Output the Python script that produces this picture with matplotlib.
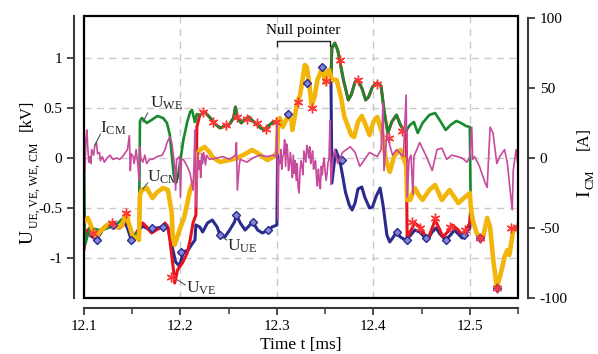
import numpy as np
import matplotlib
matplotlib.use('Agg')
import matplotlib.pyplot as plt
from matplotlib.patches import Rectangle
from matplotlib.ticker import MultipleLocator

plt.rcParams['font.family'] = 'Liberation Serif'
plt.rcParams['mathtext.fontset'] = 'custom'
plt.rcParams['mathtext.rm'] = 'Liberation Serif'
plt.rcParams['mathtext.it'] = 'Liberation Serif:italic'
plt.rcParams['axes.unicode_minus'] = False

# --- phase voltages [kV] over time [ms], piecewise ---
# W phase, start until it joins V phase high level
we_a_t = [12.100, 12.101, 12.106, 12.116, 12.132, 12.144, 12.151, 12.157, 12.158, 12.160, 12.165, 12.170,
          12.176, 12.182, 12.186, 12.189, 12.191, 12.193, 12.195, 12.197, 12.200, 12.203, 12.207, 12.210,
          12.212, 12.214, 12.215, 12.217]
we_a_v = [0.08, -0.87, -0.70, -0.72, -0.68, -0.57, -0.78, -0.74, 0.37, 0.40, 0.35, 0.38,
          0.42, 0.40, 0.35, 0.23, 0.03, -0.17, -0.25, -0.20, -0.02, 0.18, 0.36, 0.46,
          0.48, 0.40, 0.36, 0.44]

# V and W both high
hi1_t = [12.220, 12.225, 12.230, 12.236, 12.241, 12.246, 12.251, 12.255, 12.257, 12.259, 12.263, 12.267,
         12.271, 12.275, 12.279, 12.283, 12.287, 12.291, 12.296, 12.300]
hi1_v = [0.43, 0.46, 0.41, 0.34, 0.30, 0.32, 0.34, 0.40, 0.51, 0.40, 0.35, 0.39,
         0.41, 0.37, 0.34, 0.30, 0.28, 0.32, 0.36, 0.36]

# null pointer: all three phases (and CM) on the same potential
null_t = [12.301, 12.303, 12.306, 12.311, 12.315, 12.316, 12.321, 12.324, 12.327, 12.329, 12.331, 12.333,
          12.336, 12.339, 12.342, 12.347, 12.350, 12.352, 12.354, 12.356]
null_v = [0.33, 0.40, 0.31, 0.41, 0.38, 0.28, 0.55, 0.63, 0.81, 0.93, 0.91, 0.78,
          0.53, 0.61, 0.78, 0.90, 0.75, 0.86, 0.88, 0.81]

# V and W high after U switches off
hi2_t = [12.357, 12.360, 12.363, 12.365, 12.369, 12.374, 12.377, 12.381, 12.384, 12.388, 12.392, 12.395,
         12.399, 12.404, 12.408, 12.411, 12.415, 12.419, 12.424, 12.428, 12.433]
hi2_v = [1.10, 1.15, 1.08, 0.98, 0.78, 0.58, 0.63, 0.76, 0.78, 0.70, 0.58, 0.61,
         0.71, 0.75, 0.72, 0.48, 0.25, 0.36, 0.43, 0.33, 0.26]

we_b_t = [12.438, 12.442, 12.446, 12.451, 12.458, 12.464, 12.470, 12.475, 12.480, 12.486, 12.491, 12.496,
          12.500, 12.501, 12.503]
we_b_v = [0.33, 0.36, 0.25, 0.35, 0.43, 0.45, 0.36, 0.28, 0.33, 0.37, 0.35, 0.32,
          0.31, -0.57, -0.64]

ve_a_t = [12.100, 12.102, 12.106, 12.109, 12.113, 12.116, 12.122, 12.129, 12.135, 12.140, 12.144, 12.147,
          12.151, 12.155, 12.158, 12.161, 12.165, 12.170, 12.175, 12.181, 12.184, 12.187, 12.189, 12.191,
          12.193, 12.194, 12.197, 12.199, 12.202, 12.207, 12.210, 12.213, 12.216, 12.217]
ve_a_v = [-0.92, -0.74, -0.70, -0.75, -0.80, -0.74, -0.68, -0.65, -0.70, -0.68, -0.55, -0.68,
          -0.80, -0.74, -0.68, -0.65, -0.69, -0.75, -0.72, -0.69, -0.65, -0.69, -0.82, -0.98,
          -1.14, -1.25, -1.12, -1.09, -1.05, -0.95, -0.82, -0.65, -0.57, 0.31]

ve_b_t = [12.434, 12.435, 12.438, 12.443, 12.448, 12.454, 12.457, 12.461, 12.464, 12.469, 12.472, 12.477,
          12.482, 12.488, 12.492, 12.496, 12.500]
ve_b_v = [0.28, -0.82, -0.74, -0.65, -0.69, -0.78, -0.80, -0.70, -0.62, -0.72, -0.79, -0.74,
          -0.67, -0.72, -0.77, -0.72, -0.65]

ue_a_t = [12.100, 12.106, 12.113, 12.119, 12.130, 12.137, 12.142, 12.145, 12.149, 12.155, 12.161, 12.168,
          12.175, 12.182, 12.187, 12.191, 12.195, 12.199, 12.203, 12.208, 12.212, 12.215, 12.216, 12.220,
          12.223, 12.228, 12.233, 12.238, 12.241, 12.246, 12.251, 12.256, 12.258, 12.262, 12.267, 12.270,
          12.275, 12.280, 12.285, 12.291, 12.295, 12.300]
ue_a_v = [-0.72, -0.77, -0.82, -0.72, -0.67, -0.70, -0.64, -0.70, -0.82, -0.74, -0.68, -0.72,
          -0.70, -0.69, -0.70, -0.87, -1.04, -1.08, -0.94, -0.92, -0.86, -0.82, -0.67, -0.69,
          -0.74, -0.65, -0.62, -0.69, -0.77, -0.79, -0.72, -0.64, -0.57, -0.65, -0.72, -0.69,
          -0.64, -0.72, -0.75, -0.72, -0.69, -0.67]

ue_b_t = [12.357, 12.361, 12.365, 12.368, 12.371, 12.375, 12.378, 12.381, 12.384, 12.388, 12.391, 12.396,
          12.399, 12.403, 12.407, 12.410, 12.414, 12.417, 12.420, 12.424, 12.428, 12.433, 12.438, 12.443,
          12.448, 12.456, 12.461, 12.465, 12.469, 12.475, 12.480, 12.484, 12.488, 12.492, 12.496, 12.500]
ue_b_v = [-0.25, 0.08, -0.02, -0.17, -0.34, -0.47, -0.52, -0.45, -0.31, -0.29, -0.39, -0.50,
          -0.49, -0.38, -0.30, -0.47, -0.77, -0.84, -0.80, -0.74, -0.79, -0.82, -0.78, -0.72,
          -0.74, -0.82, -0.74, -0.70, -0.76, -0.82, -0.77, -0.72, -0.76, -0.80, -0.75, -0.70]

cm_a_t = [12.100, 12.104, 12.109, 12.113, 12.116, 12.124, 12.129, 12.134, 12.139, 12.142, 12.144, 12.146,
          12.151, 12.155, 12.157, 12.158, 12.160, 12.165, 12.171, 12.176, 12.182, 12.187, 12.191, 12.192,
          12.194, 12.199, 12.204, 12.210, 12.213, 12.216, 12.217, 12.220, 12.225, 12.230, 12.233, 12.241,
          12.251, 12.259, 12.269, 12.274, 12.280, 12.290, 12.296, 12.300]
cm_a_v = [-0.64, -0.60, -0.72, -0.79, -0.74, -0.67, -0.65, -0.69, -0.68, -0.60, -0.55, -0.64,
          -0.80, -0.79, -0.82, -0.37, -0.32, -0.30, -0.40, -0.34, -0.30, -0.32, -0.55, -0.79,
          -0.87, -0.72, -0.59, -0.32, -0.25, -0.22, 0.03, 0.08, 0.11, 0.06, 0.01, -0.04,
          -0.02, 0.00, 0.05, 0.08, 0.05, -0.02, 0.01, 0.05]

cm_b_t = [12.358, 12.362, 12.367, 12.370, 12.374, 12.377, 12.380, 12.384, 12.388, 12.392, 12.396, 12.400,
          12.404, 12.409, 12.413, 12.417, 12.422, 12.428, 12.431, 12.434, 12.435, 12.438, 12.443, 12.447,
          12.451, 12.458, 12.464, 12.471, 12.479, 12.488, 12.494, 12.500]
cm_b_v = [0.78, 0.78, 0.58, 0.41, 0.31, 0.23, 0.21, 0.36, 0.42, 0.33, 0.23, 0.36,
          0.41, 0.25, -0.02, -0.14, 0.03, 0.08, 0.00, -0.07, -0.42, -0.42, -0.30, -0.37,
          -0.42, -0.32, -0.27, -0.42, -0.32, -0.45, -0.40, -0.35]

# all phases low at the end
low_t = [12.501, 12.503, 12.507, 12.511, 12.514, 12.518, 12.521, 12.524, 12.528, 12.533, 12.536, 12.539,
         12.541, 12.545, 12.549, 12.550]
low_v = [-0.49, -0.62, -0.75, -0.80, -0.78, -0.60, -0.69, -0.99, -1.30, -1.12, -0.99, -0.92,
         -0.97, -0.72, -0.70, -0.68]

# common mode current: (time [ms], current [A])
icm_samples = [
    (12.100, 21), (12.101, -9), (12.102, 13), (12.103, 20), (12.104, 6), (12.105, -3), (12.106, 1),
    (12.107, -4), (12.108, 6), (12.110, 2), (12.111, 8), (12.113, 11), (12.114, 3), (12.116, 4),
    (12.117, -2), (12.119, 1), (12.121, -3), (12.124, 0), (12.127, 2), (12.130, -1), (12.134, 0),
    (12.137, -1), (12.140, 1), (12.143, 4), (12.145, 6), (12.147, 16), (12.148, -9), (12.149, 3),
    (12.151, 1), (12.152, -4), (12.154, 6), (12.156, -6), (12.157, -16), (12.158, 8), (12.159, 0),
    (12.161, -3), (12.163, 2), (12.165, -4), (12.168, -1), (12.171, -1), (12.176, 1), (12.181, 2),
    (12.184, 6), (12.186, 11), (12.189, 15), (12.191, 11), (12.194, -6), (12.195, -23), (12.196, -1),
    (12.199, 1), (12.200, -28), (12.201, -1), (12.203, -1), (12.207, -6), (12.210, -11), (12.213, -23),
    (12.214, -5), (12.215, 20), (12.216, -35), (12.218, 4), (12.219, -8), (12.220, -2), (12.221, -14),
    (12.222, 3), (12.223, -4), (12.224, 4), (12.226, -5), (12.227, 2), (12.230, -1), (12.238, 0),
    (12.244, 1), (12.251, -1), (12.257, 2), (12.258, 11), (12.259, -23), (12.261, -5), (12.262, -1),
    (12.269, -3), (12.275, 0), (12.282, 2), (12.290, 1), (12.296, 2), (12.299, 1), (12.300, 24),
    (12.301, -44), (12.302, -1), (12.303, -4), (12.304, 6), (12.305, -8), (12.306, 1), (12.307, 3),
    (12.308, 13), (12.309, -6), (12.310, 10), (12.311, 6), (12.312, -9), (12.313, -5), (12.314, 4),
    (12.315, -4), (12.316, -14), (12.317, 2), (12.318, -11), (12.319, -2), (12.320, -16), (12.321, -4),
    (12.322, -21), (12.323, -25), (12.324, -9), (12.325, -2), (12.326, -6), (12.327, -12), (12.328, 5),
    (12.329, 1), (12.330, -3), (12.331, 9), (12.332, 6), (12.333, 0), (12.334, 8), (12.335, -4),
    (12.336, 1), (12.337, 5), (12.338, -8), (12.339, -4), (12.340, -2), (12.341, -14), (12.342, -20),
    (12.343, -8), (12.344, -16), (12.345, -22), (12.346, -6), (12.347, -12), (12.348, -4), (12.349, 0),
    (12.350, -10), (12.351, -16), (12.352, -11), (12.353, -3), (12.354, -1), (12.355, 27), (12.356, -19),
    (12.358, -1), (12.360, 6), (12.363, -4), (12.368, 4), (12.376, 8), (12.381, 4), (12.386, -6),
    (12.391, -1), (12.396, 4), (12.404, 1), (12.408, 6), (12.410, 39), (12.411, -9), (12.414, 18),
    (12.417, 9), (12.420, 2), (12.424, 6), (12.431, 1), (12.434, 45), (12.435, -28), (12.437, -1),
    (12.439, 2), (12.441, -26), (12.442, 1), (12.448, 11), (12.455, 1), (12.461, -9), (12.466, 6),
    (12.471, 7), (12.476, -1), (12.481, 2), (12.487, 1), (12.492, 0), (12.497, -3), (12.500, 1),
    (12.502, 22), (12.503, -1), (12.505, 1), (12.510, -6), (12.516, -18), (12.518, -21), (12.521, 22),
    (12.524, 18), (12.528, -4), (12.531, 1), (12.536, 6), (12.539, -4), (12.541, -18), (12.544, -37),
    (12.545, -9), (12.548, 6), (12.550, -6),
]

# marker samples
ve_mark_t = [12.109, 12.129, 12.144, 12.190, 12.223, 12.234, 12.247, 12.259, 12.269, 12.279, 12.289, 12.299,
             12.322, 12.336, 12.351, 12.365, 12.384, 12.404, 12.416, 12.430, 12.440, 12.448, 12.464, 12.479,
             12.495, 12.511, 12.528, 12.543, 12.549]
ve_mark_v = [-0.75, -0.65, -0.55, -1.19, 0.46, 0.36, 0.33, 0.41, 0.39, 0.35, 0.29, 0.36,
             0.56, 0.50, 0.77, 0.98, 0.78, 0.74, 0.20, 0.27, -0.64, -0.70, -0.60, -0.69,
             -0.72, -0.80, -1.30, -0.70, -0.69]
ue_mark_t = [12.113, 12.130, 12.149, 12.170, 12.182, 12.201, 12.241, 12.258, 12.275, 12.291, 12.312, 12.331,
             12.347, 12.367, 12.424, 12.435, 12.455, 12.475, 12.494, 12.511, 12.528]
ue_mark_v = [-0.82, -0.67, -0.82, -0.70, -0.69, -0.94, -0.77, -0.57, -0.64, -0.72, 0.44, 0.75,
             0.91, -0.02, -0.74, -0.82, -0.80, -0.82, -0.77, -0.80, -1.30]

t_ticks = [12.1, 12.2, 12.3, 12.4, 12.5]
v_ticks = [-1, -0.5, 0, 0.5, 1]
v_tick_labels = ['-1', '-0.5', '0', '0.5', '1']
i_ticks = [-100, -50, 0, 50, 100]
null_start, null_end = 12.300, 12.355


def join(*parts):
    t, v = [], []
    for pt, pv in parts:
        t += pt
        v += pv
    return np.array(t), np.array(v)


we_t, we_v = join((we_a_t, we_a_v), (hi1_t, hi1_v), (null_t, null_v), (hi2_t, hi2_v), (we_b_t, we_b_v))
ve_t, ve_v = join((ve_a_t, ve_a_v), (hi1_t, hi1_v), (null_t, null_v), (hi2_t, hi2_v), (ve_b_t, ve_b_v),
                  (low_t, low_v))
ue_t, ue_v = join((ue_a_t, ue_a_v), (null_t, null_v), (ue_b_t, ue_b_v), (low_t, low_v))
cm_t, cm_v = join((cm_a_t, cm_a_v), (null_t, null_v), (cm_b_t, cm_b_v), (low_t, low_v))
icm_t, icm_a = zip(*icm_samples)

c_ue, c_ve, c_we = '#2b2b8e', '#e5141d', '#178a2e'
c_cm, c_icm = '#f2b50a', '#c84a9c'
spine_c = '#3a3a3a'

fig = plt.figure(figsize=(5.98, 3.54), dpi=100)
ax = fig.add_axes([0.1405, 0.1582, 0.7258, 0.7966])
ax2 = ax.twinx()

ax.grid(True, ls=(0, (5, 4)), color='#c9c9c9', lw=1.0)
ax.set_axisbelow(True)

kw = dict(solid_joinstyle='round', solid_capstyle='round')
ax.plot(ue_t, ue_v, color=c_ue, lw=2.2, **kw)
ax.plot(ve_t, ve_v, color=c_ve, lw=2.2, **kw)
ax.plot(we_t, we_v, color=c_we, lw=1.9, **kw)
ax.plot(cm_t, cm_v, color=c_cm, lw=3.3, **kw)
ax.plot(ue_mark_t, ue_mark_v, 'D', ms=4.2, mfc='#8585d6', mec=c_ue, mew=1.0, zorder=5)
ax.plot(ve_mark_t, ve_mark_v, marker=(6, 2, 0), ls='none', ms=7, color='#ff3535', mew=1.0, zorder=5)

ax2.plot(icm_t, icm_a, color=c_icm, lw=1.2, **kw)

ax.set_xlim(12.1, 12.55)
ax.set_ylim(-1.40, 1.42)
ax2.set_ylim(-100, 101.4)

# axis styling: closed black frame plus detached tick axes
for s in ['top', 'right']:
    ax.spines[s].set_visible(False)
for s in ['left', 'bottom']:
    ax.spines[s].set_position(('outward', 7))
    ax.spines[s].set_color(spine_c)
    ax.spines[s].set_linewidth(1.5)
for s in ['left', 'top', 'bottom']:
    ax2.spines[s].set_visible(False)
ax2.spines['right'].set_position(('outward', 7))
ax2.spines['right'].set_color(spine_c)
ax2.spines['right'].set_linewidth(1.5)
ax2.spines['right'].set_bounds(-100, 100)
ax2.add_patch(Rectangle((0, 0), 1, 1, transform=ax2.transAxes, fill=False, lw=1.6,
                        ec='black', clip_on=False, zorder=10))

ax.set_xticks(t_ticks)
ax.xaxis.set_minor_locator(MultipleLocator(0.05))
ax.set_yticks(v_ticks)
ax.set_yticklabels(v_tick_labels)
ax2.set_yticks(i_ticks)
for a in (ax, ax2):
    a.tick_params(which='major', direction='out', length=5, width=1.3, color=spine_c, labelsize=11)
    a.tick_params(which='minor', direction='out', length=4, width=1.1, color=spine_c)

ax.set_xlabel('Time t [ms]', fontsize=12.5, labelpad=3)

# axis titles: symbol, subscript and unit set as separate rotated texts
rot = dict(rotation=90, rotation_mode='anchor', ha='left', va='baseline')
fig.text(0.0552, 1 - 244 / 354, 'U', fontsize=14, **rot)
fig.text(0.0625, 1 - 228 / 354, 'UE, VE, WE, CM', fontsize=8.5, **rot)
fig.text(0.0510, 1 - 131 / 354, '[kV]', fontsize=12, **rot)
fig.text(0.9850, 1 - 197 / 354, 'I', fontsize=14, **rot)
fig.text(0.9920, 1 - 189 / 354, 'CM', fontsize=9, **rot)
fig.text(0.9830, 1 - 150 / 354, '[A]', fontsize=12, **rot)

# trace labels with leader lines
lab_kw = dict(fontsize=12.5, color='#222222')
lead_kw = dict(color='#555555', lw=0.8)
ax.text(12.168, 0.46, r'$\mathrm{U}_{\mathrm{WE}}$', va='bottom', **lab_kw)
ax.plot([12.166, 12.161], [0.45, 0.36], **lead_kw)
ax2.text(12.117, 21, r'$\mathrm{I}_{\mathrm{CM}}$', va='center', **lab_kw)
ax2.plot([12.117, 12.111], [17, 9], **lead_kw)
ax.text(12.165, -0.19, r'$\mathrm{U}_{\mathrm{CM}}$', va='center', **lab_kw)
ax.plot([12.166, 12.161], [-0.25, -0.31], **lead_kw)
ax.text(12.248, -0.88, r'$\mathrm{U}_{\mathrm{UE}}$', va='center', **lab_kw)
ax.plot([12.248, 12.243], [-0.82, -0.79], **lead_kw)
ax.text(12.206, -1.30, r'$\mathrm{U}_{\mathrm{VE}}$', va='center', **lab_kw)
ax.plot([12.205, 12.197], [-1.27, -1.22], **lead_kw)

# null pointer bracket
ax.plot([null_start, null_start, null_end, null_end], [1.12, 1.17, 1.17, 1.12], color='#222222', lw=1.0)
ax.text((null_start + null_end) / 2, 1.21, 'Null pointer', ha='center', va='bottom', fontsize=11)

fig.savefig('out.png', dpi=100)
